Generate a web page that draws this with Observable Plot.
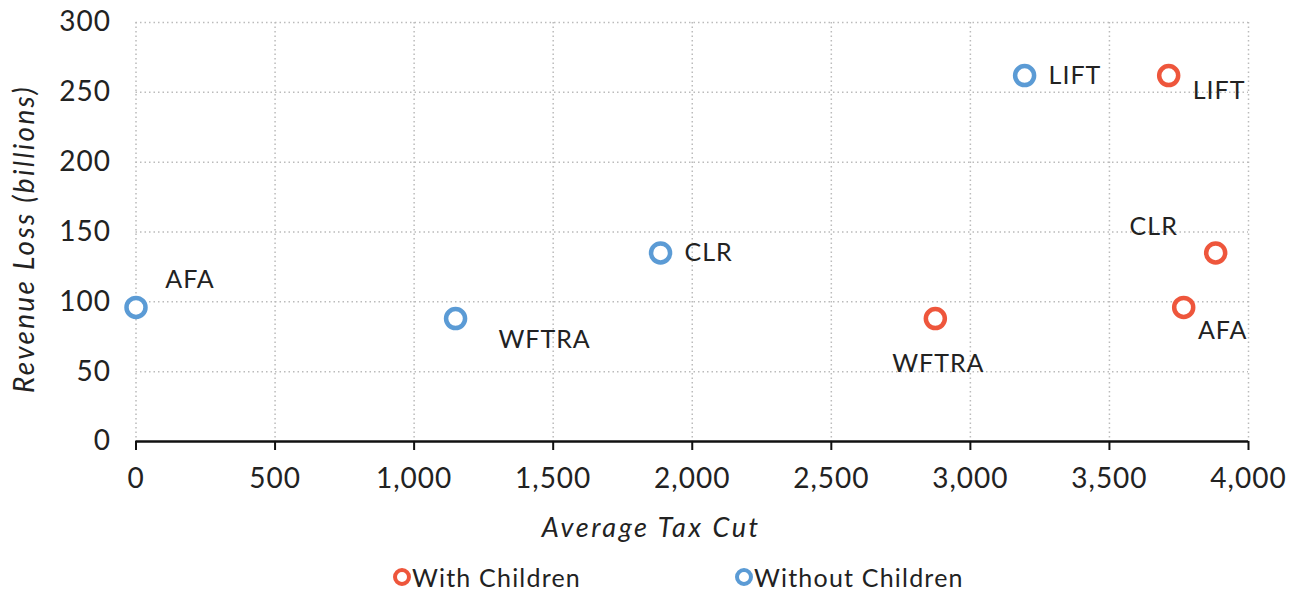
<!DOCTYPE html>
<html>
<head>
<meta charset="utf-8">
<script src="https://cdn.jsdelivr.net/npm/d3@7"></script>
<script src="https://cdn.jsdelivr.net/npm/@observablehq/plot@0.6"></script>
<style>
  html, body { margin: 0; padding: 0; background: #fff; }
  #chart { position: relative; width: 1298px; height: 590px; font-family: Lato, "Noto Sans", sans-serif; }
  #legend { position: absolute; left: 0; top: 562px; width: 1298px; height: 30px; font-size: 25px; letter-spacing: 1.2px; color: #222; }
  .item { position: absolute; top: 0; display: flex; align-items: center; height: 30px; }
  .mk { width: 10px; height: 10px; border-radius: 50%; border: 4px solid; margin-right: 1px; box-sizing: content-box; }
</style>
</head>
<body>
<div id="chart"><div id="legend"></div></div>
<script>
// ---- data ----
const seriesNames = ["With Children", "Without Children"];
const seriesColors = ["#EE563C", "#5B9BD5"];
const plans = ["AFA", "WFTRA", "CLR", "LIFT"];
const withChildrenTaxCut = [3767, 2874, 3882, 3713];
const withChildrenRevenue = [96, 88, 135, 262];
const withoutChildrenTaxCut = [0, 1149, 1886, 3195];
const withoutChildrenRevenue = [96, 88, 135, 262];
const xTicks = [0, 500, 1000, 1500, 2000, 2500, 3000, 3500, 4000];
const yTicks = [0, 50, 100, 150, 200, 250, 300];
const xTitle = "Average Tax Cut";
const yTitle = "Revenue Loss (billions)";

// label placement (offsets in px), kept separate from data
const labelPlacement = {
  "Without Children": {
    AFA: {dx: 54, dy: -27, anchor: "middle"},
    WFTRA: {dx: 89, dy: 21, anchor: "middle"},
    CLR: {dx: 24, dy: 0, anchor: "start"},
    LIFT: {dx: 24, dy: 0, anchor: "start"}
  },
  "With Children": {
    AFA: {dx: 39, dy: 24, anchor: "middle"},
    WFTRA: {dx: 3, dy: 45, anchor: "middle"},
    CLR: {dx: -62, dy: -26, anchor: "middle"},
    LIFT: {dx: 24, dy: 15, anchor: "start"}
  }
};

const rows = [];
plans.forEach((p, i) => {
  rows.push({series: "With Children", plan: p, x: withChildrenTaxCut[i], y: withChildrenRevenue[i]});
  rows.push({series: "Without Children", plan: p, x: withoutChildrenTaxCut[i], y: withoutChildrenRevenue[i]});
});

const labelMarks = rows.map(r => {
  const pl = labelPlacement[r.series][r.plan];
  return Plot.text([r], {x: "x", y: "y", text: "plan", dx: pl.dx, dy: pl.dy, textAnchor: pl.anchor,
    fontSize: 25, fill: "#222"});
});

const plot = Plot.plot({
  width: 1298,
  height: 560,
  marginLeft: 135.5,
  marginRight: 50,
  marginTop: 22,
  marginBottom: 119,
  style: {fontFamily: "Lato, 'Noto Sans', sans-serif", fontSize: "28px", letterSpacing: "1px", color: "#222", background: "#fff"},
  x: {domain: [0, 4000]},
  y: {domain: [0, 300]},
  color: {domain: seriesNames, range: seriesColors},
  marks: [
    Plot.gridX(xTicks, {stroke: "#bbb", strokeOpacity: 1, strokeWidth: 1.5, strokeDasharray: "1.5,3"}),
    Plot.gridY(yTicks.filter(d => d > 0), {stroke: "#bbb", strokeOpacity: 1, strokeWidth: 1.5, strokeDasharray: "1.5,3"}),
    Plot.axisY({ticks: yTicks, tickSize: 0, tickPadding: 25, label: null, fill: "#222"}),
    Plot.axisX({ticks: xTicks, tickFormat: d3.format(","), tickSize: 9, tickPadding: 18, label: null, stroke: "#111", strokeWidth: 2, fill: "#222"}),
    Plot.ruleY([0], {stroke: "#111", strokeWidth: 2.5}),
    Plot.text([yTitle], {frameAnchor: "left", textAnchor: "middle", lineAnchor: "middle", dx: -111, dy: 7, rotate: -90, fontStyle: "italic", fontSize: 28, fill: "#222"}),
    Plot.text([xTitle], {frameAnchor: "bottom", textAnchor: "middle", lineAnchor: "middle", dx: -41, dy: 87, fontStyle: "italic", fontSize: 27, fill: "#222"}),
    Plot.dot(rows, {x: "x", y: "y", stroke: "series", r: 9.5, strokeWidth: 4.5, fill: "white"}),
    ...labelMarks
  ]
});
// wider tracking on the italic axis titles (reference font is wider)
d3.select(plot).selectAll("text").each(function() {
  const t = this.textContent;
  if (t === xTitle) d3.select(this).attr("letter-spacing", "2.6px");
  if (t === yTitle) d3.select(this).attr("letter-spacing", "2.3px");
});
document.getElementById("chart").prepend(plot);

// legend (HTML, below the SVG)
const legend = document.getElementById("legend");
const legendLeft = [393, 735];
seriesNames.forEach((name, i) => {
  const it = document.createElement("div");
  it.className = "item";
  it.style.left = legendLeft[i] + "px";
  const mk = document.createElement("span");
  mk.className = "mk";
  mk.style.borderColor = seriesColors[i];
  it.appendChild(mk);
  const t = document.createElement("span");
  t.textContent = name;
  it.appendChild(t);
  legend.appendChild(it);
});
</script>
</body>
</html>
